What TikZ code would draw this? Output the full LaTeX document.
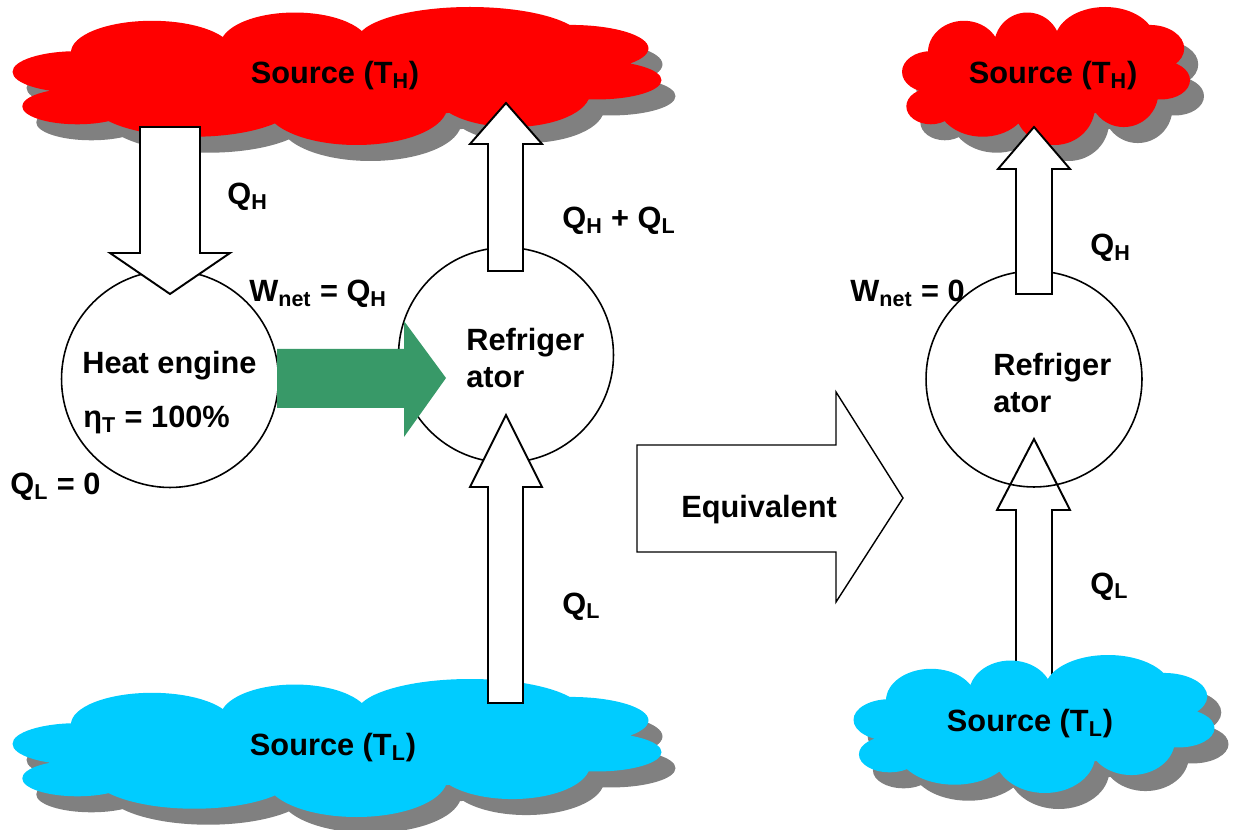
\documentclass[tikz,border=0pt]{standalone}
\usepackage{fontspec}
\setmainfont{Liberation Sans}
\definecolor{HotSource}{RGB}{255,0,0}
\definecolor{ColdSource}{RGB}{0,204,255}
\definecolor{WorkArrow}{RGB}{56,153,104}
\tikzset{
    every node/.style={font=\fontsize{17.5}{21.5}\selectfont\bfseries},
    pics/puffcloud/.style={code={
        \path[pic actions]
            (-0.400,-0.030) ellipse (0.100 and 0.150)
            (-0.400, 0.220) ellipse (0.085 and 0.130)
            (-0.285,-0.170) ellipse (0.125 and 0.230)
            (-0.065,-0.220) ellipse (0.115 and 0.240)
            ( 0.205,-0.250) ellipse (0.175 and 0.250)
            ( 0.360,-0.200) ellipse (0.120 and 0.170)
            ( 0.400, 0.030) ellipse (0.100 and 0.140)
            ( 0.270, 0.120) ellipse (0.120 and 0.250)
            ( 0.030, 0.220) ellipse (0.140 and 0.280)
            (-0.220, 0.180) ellipse (0.160 and 0.260)
            ( 0.000, 0.000) ellipse (0.380 and 0.300);
    }},
    cloud shadow/.style={fill=gray, draw=none},
    device/.style={circle, draw=black, line width=0.9pt, inner sep=0pt},
    flow arrow/.style={draw=black, fill=white, line width=1.1pt, line join=miter},
    qlabel/.style={inner sep=0pt, anchor=base west}
}

\begin{document}
\begin{tikzpicture}[x=0.02cm, y=-0.02cm]
\useasboundingbox (0,0) rectangle (1236,830);

% Flecha que queda detras de la fuente fria de la derecha
\draw[flow arrow] (1016,690) -- (1016,510) -- (997,510) -- (1034,439)
    -- (1070,510) -- (1052,510) -- (1052,690) -- cycle;

% Fuentes de calor (sombra y nube)
\pic[cloud shadow, xscale=649, yscale=138] (hotleftshadow) at (351,92) {puffcloud};
\pic[fill=HotSource, xscale=649, yscale=138] (hotleft) at (337,76) {puffcloud};
\pic[cloud shadow, xscale=649, yscale=138] (coldleftshadow) at (351,764) {puffcloud};
\pic[fill=ColdSource, xscale=649, yscale=138] (coldleft) at (337,748) {puffcloud};
\pic[cloud shadow, xscale=288, yscale=138] (hotrightshadow) at (1060,92) {puffcloud};
\pic[fill=HotSource, xscale=288, yscale=138] (hotright) at (1046,76) {puffcloud};
\pic[cloud shadow, xscale=361, yscale=138] (coldrightshadow) at (1048,740) {puffcloud};
\pic[fill=ColdSource, xscale=361, yscale=138] (coldright) at (1034,724) {puffcloud};

% Maquinas
\node[device, minimum size=4.34cm] (engine) at (170,379) {};
\node[device, minimum size=4.30cm] (fridgeleft) at (506,355) {};
\node[device, minimum size=4.32cm] (fridgeright) at (1034,379) {};

% Flechas de calor
\draw[flow arrow] (140,127) -- (200,127) -- (200,253) -- (230,253)
    -- (170,294) -- (110,253) -- (140,253) -- cycle;
\draw[flow arrow] (488,271) -- (488,144) -- (470,144) -- (506,103)
    -- (542,144) -- (523,144) -- (523,271) -- cycle;
\draw[flow arrow] (488,703) -- (488,487) -- (470,487) -- (506,415)
    -- (542,487) -- (523,487) -- (523,703) -- cycle;
\draw[flow arrow] (1016,294) -- (1016,169) -- (998,169) -- (1034,127)
    -- (1070,169) -- (1052,169) -- (1052,294) -- cycle;

% Trabajo neto y equivalencia
\fill[WorkArrow] (277,349) -- (404,349) -- (404,321) -- (446,378)
    -- (404,437) -- (404,408) -- (277,408) -- cycle;
\draw[flow arrow, line width=0.8pt] (637,445) -- (836,445) -- (836,392) -- (903,498)
    -- (836,602) -- (836,552) -- (637,552) -- cycle;

% Textos
\node (hotlefttext) at (335,76) {Source (T\textsubscript{H})};
\node (coldlefttext) at (333,748) {Source (T\textsubscript{L})};
\node (hotrighttext) at (1053,76) {Source (T\textsubscript{H})};
\node (coldrighttext) at (1030,724) {Source (T\textsubscript{L})};

\node[qlabel] (enginename) at (82,374) {Heat engine};
\node[qlabel] (engineeff) at (83,428) {η\textsubscript{T} = 100\%};
\node[inner sep=0pt, anchor=west, align=left] (fridgelefttext) at (466,358) {Refriger\\ator};
\node[inner sep=0pt, anchor=west, align=left] (fridgerighttext) at (993,383) {Refriger\\ator};
\node[qlabel] (equivtext) at (681,518) {Equivalent};

\node[qlabel] (qhengine) at (227,205) {Q\textsubscript{H}};
\node[qlabel] (wnetleft) at (249,302) {W\textsubscript{net} = Q\textsubscript{H}};
\node[qlabel] (qsumtop) at (562,229) {Q\textsubscript{H} + Q\textsubscript{L}};
\node[qlabel] (qlfridge) at (562,614) {Q\textsubscript{L}};
\node[qlabel] (qlengine) at (10,495) {Q\textsubscript{L} = 0};
\node[qlabel] (wnetright) at (850,302) {W\textsubscript{net} = 0};
\node[qlabel] (qhright) at (1090,256) {Q\textsubscript{H}};
\node[qlabel] (qlright) at (1090,594) {Q\textsubscript{L}};

\end{tikzpicture}
\end{document}
